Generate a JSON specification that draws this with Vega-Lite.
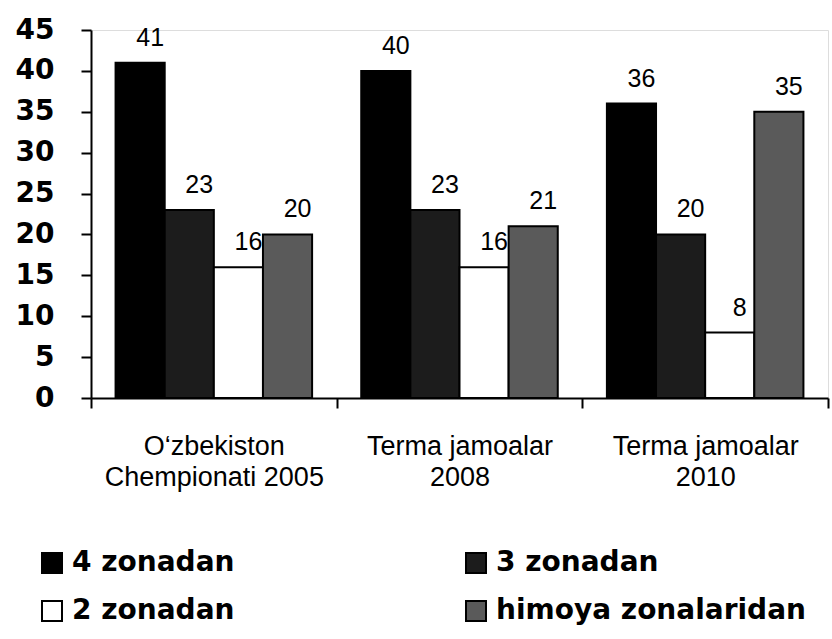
{
  "$schema": "https://vega.github.io/schema/vega-lite/v6.json",
  "autosize": "none",
  "padding": {"left": 91, "top": 30, "right": 4, "bottom": 241},
  "width": 737,
  "height": 368,
  "background": "white",
  "data": {
    "values": [
      {"cat": "O‘zbekiston|Chempionati 2005", "zone": "4 zonadan", "value": 41},
      {"cat": "O‘zbekiston|Chempionati 2005", "zone": "3 zonadan", "value": 23},
      {"cat": "O‘zbekiston|Chempionati 2005", "zone": "2 zonadan", "value": 16},
      {"cat": "O‘zbekiston|Chempionati 2005", "zone": "himoya zonalaridan", "value": 20},
      {"cat": "Terma jamoalar|2008", "zone": "4 zonadan", "value": 40},
      {"cat": "Terma jamoalar|2008", "zone": "3 zonadan", "value": 23},
      {"cat": "Terma jamoalar|2008", "zone": "2 zonadan", "value": 16},
      {"cat": "Terma jamoalar|2008", "zone": "himoya zonalaridan", "value": 21},
      {"cat": "Terma jamoalar|2010", "zone": "4 zonadan", "value": 36},
      {"cat": "Terma jamoalar|2010", "zone": "3 zonadan", "value": 20},
      {"cat": "Terma jamoalar|2010", "zone": "2 zonadan", "value": 8},
      {"cat": "Terma jamoalar|2010", "zone": "himoya zonalaridan", "value": 35}
    ]
  },
  "encoding": {
    "x": {
      "field": "cat", "type": "nominal", "sort": null,
      "scale": {"paddingInner": 0, "paddingOuter": 0},
      "axis": {
        "title": null, "labelAngle": 0, "labelExpr": "split(datum.label, '|')",
        "labelFont": "Liberation Sans", "labelFontSize": 27, "labelLineHeight": 31,
        "labelColor": "black", "labelPadding": 25, "labelLimit": 400,
        "tickBand": "extent", "tickSize": 10, "tickColor": "black", "tickWidth": 2,
        "domainColor": "black", "domainWidth": 2
      }
    },
    "xOffset": {
      "field": "zone", "type": "nominal",
      "sort": ["4 zonadan", "3 zonadan", "2 zonadan", "himoya zonalaridan"],
      "scale": {"paddingInner": 0, "paddingOuter": 0.5}
    },
    "y": {
      "field": "value", "type": "quantitative",
      "scale": {"domain": [0, 45], "nice": false},
      "axis": {
        "title": null, "values": [0, 5, 10, 15, 20, 25, 30, 35, 40, 45], "grid": false,
        "labelFont": "DejaVu Sans", "labelFontWeight": "bold", "labelFontSize": 28,
        "labelColor": "black", "labelPadding": 27,
        "tickSize": 10, "tickColor": "black", "tickWidth": 2,
        "domainColor": "black", "domainWidth": 2
      }
    }
  },
  "layer": [
    {
      "mark": {"type": "bar", "stroke": "black", "strokeWidth": 2},
      "encoding": {
        "color": {
          "field": "zone", "type": "nominal",
          "scale": {
            "domain": ["4 zonadan", "3 zonadan", "2 zonadan", "himoya zonalaridan"],
            "range": ["#000000", "#1c1c1c", "#ffffff", "#5a5a5a"]
          },
          "legend": {
            "title": null, "orient": "none", "legendX": -53, "legendY": 519,
            "direction": "horizontal",
            "columns": 2, "columnPadding": 227, "rowPadding": 20,
            "symbolType": "square", "symbolSize": 400, "symbolStrokeColor": "black",
            "symbolStrokeWidth": 2, "symbolOpacity": 1,
            "labelFont": "DejaVu Sans", "labelFontWeight": "bold", "labelFontSize": 28,
            "labelColor": "black", "labelOffset": 6, "labelLimit": 400
          }
        }
      }
    },
    {
      "mark": {"type": "text", "font": "Liberation Sans", "fontSize": 25, "color": "black", "baseline": "bottom", "dy": -12, "dx": 10},
      "encoding": {"text": {"field": "value", "type": "quantitative"}}
    }
  ]
}
